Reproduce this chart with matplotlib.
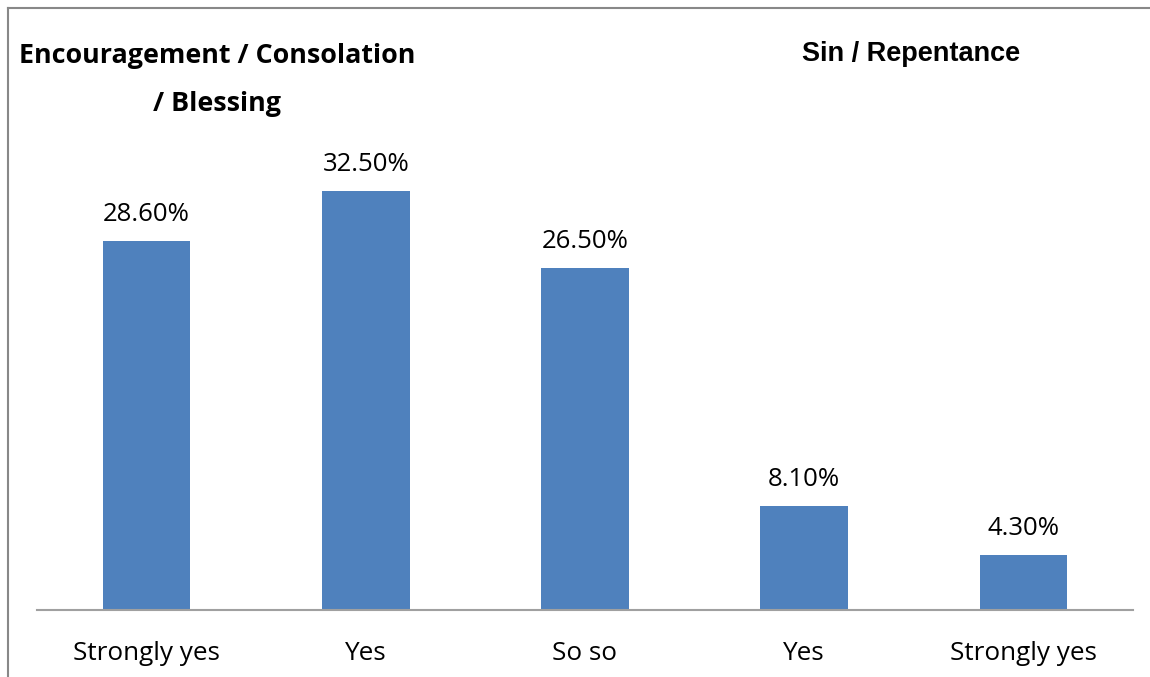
import matplotlib.pyplot as plt
from matplotlib.lines import Line2D

# Chart data
categories = ["Strongly yes", "Yes", "So so", "Yes", "Strongly yes"]
values = [28.6, 32.5, 26.5, 8.1, 4.3]
value_labels = ["28.60%", "32.50%", "26.50%", "8.10%", "4.30%"]

plt.rcParams['font.family'] = ['Open Sans', 'DejaVu Sans']

fig = plt.figure(figsize=(11.5, 6.77), dpi=100)
W, H = 1150, 677

# axes placed in pixel terms: x 37..1133, baseline at y=610, top at y=100
ax = fig.add_axes([37 / W, (H - 610) / H, (1133 - 37) / W, 510 / H])
x = list(range(len(categories)))
ax.bar(x, values, width=0.4, color="#4f81bd")
ax.set_xlim(-0.5, 4.5)
ax.set_ylim(0, 510 / 12.9)

for xi, v, lab in zip(x, values, value_labels):
    ax.annotate(lab, (xi, v), xytext=(0, 10), textcoords="offset points",
                ha="center", va="bottom", fontsize=18.5, color="#000000")

ax.set_xticks(x)
ax.set_xticklabels(categories, fontsize=18.8)
ax.tick_params(axis="x", length=0, pad=22)
ax.set_yticks([])
for s in ["top", "right", "left"]:
    ax.spines[s].set_visible(False)
ax.spines["bottom"].set_color("#a0a0a0")
ax.spines["bottom"].set_linewidth(1.5)

# titles
fig.text(217 / W, 1 - 80 / H, "Encouragement / Consolation\n/ Blessing",
         ha="center", va="center", fontsize=19.4, fontweight="bold",
         linespacing=2.08, color="#000000")
fig.text(911 / W, 1 - 54 / H, "Sin / Repentance", ha="center", va="center",
         fontsize=19.5, fontweight="bold", family=["Liberation Sans", "DejaVu Sans"])

# outer frame lines (top and left)
fig.add_artist(Line2D([8 / W, 1], [1 - 8 / H, 1 - 8 / H], color="#888888", lw=1.5,
                      transform=fig.transFigure))
fig.add_artist(Line2D([8 / W, 8 / W], [0, 1 - 8 / H], color="#888888", lw=1.5,
                      transform=fig.transFigure))

fig.savefig("out.png", dpi=100)
